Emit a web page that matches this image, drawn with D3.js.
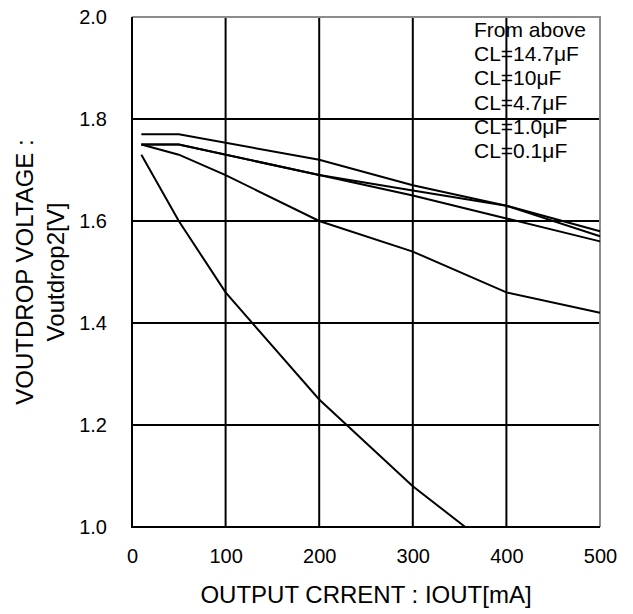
<!DOCTYPE html>
<html>
<head>
<meta charset="utf-8">
<script src="https://cdn.jsdelivr.net/npm/d3@7"></script>
<style>
  body { margin: 0; background: #fff; }
  text { font-family: "Liberation Sans", Arial, sans-serif; fill: #000; }
</style>
</head>
<body>
<svg id="chart" width="633" height="614"></svg>
<script>
// load current [mA] for each curve
const x_cl147 = [10, 50, 200, 300, 400, 500];
const x_cl10 = [10, 50, 200, 300, 400, 500];
const x_cl47 = [10, 50, 200, 300, 400, 500];
const x_cl10u = [10, 50, 100, 200, 300, 400, 500];
const x_cl01 = [10, 50, 100, 200, 300, 356];

// Voutdrop2 [V]
const y_cl147 = [1.77, 1.77, 1.72, 1.67, 1.63, 1.58];
const y_cl10 = [1.75, 1.75, 1.69, 1.66, 1.63, 1.57];
const y_cl47 = [1.75, 1.75, 1.69, 1.65, 1.605, 1.56];
const y_cl10u = [1.75, 1.73, 1.69, 1.60, 1.54, 1.46, 1.42];
const y_cl01 = [1.73, 1.60, 1.46, 1.25, 1.08, 1.00];

const legend_lines = ["From above", "CL=14.7μF", "CL=10μF", "CL=4.7μF", "CL=1.0μF", "CL=0.1μF"];
const x_ticks = [0, 100, 200, 300, 400, 500];
const y_ticks = [1.0, 1.2, 1.4, 1.6, 1.8, 2.0];

const curves = [
    [x_cl147, y_cl147],
    [x_cl10, y_cl10],
    [x_cl47, y_cl47],
    [x_cl10u, y_cl10u],
    [x_cl01, y_cl01]
].map(([xs, ys]) => xs.map((x, i) => ({x: x, y: ys[i]})));

const margin = {left: 132, right: 33, top: 17, bottom: 87};
const width = 633 - margin.left - margin.right;
const height = 614 - margin.top - margin.bottom;

const xScale = d3.scaleLinear().domain([0, 500]).range([0, width]);
const yScale = d3.scaleLinear().domain([1.0, 2.0]).range([height, 0]);

const svg = d3.select("#chart");
const g = svg.append("g")
    .attr("transform", `translate(${margin.left}, ${margin.top})`);

// grid
g.selectAll(".vgrid")
    .data(x_ticks.slice(1, -1))
    .enter().append("line")
    .attr("x1", d => xScale(d)).attr("x2", d => xScale(d))
    .attr("y1", 0).attr("y2", height)
    .attr("stroke", "#000").attr("stroke-width", 2);
g.selectAll(".hgrid")
    .data(y_ticks.slice(1, -1))
    .enter().append("line")
    .attr("x1", 0).attr("x2", width)
    .attr("y1", d => yScale(d)).attr("y2", d => yScale(d))
    .attr("stroke", "#000").attr("stroke-width", 2);

// frame: top and right grey, left and bottom black
g.append("path")
    .attr("d", `M0,0H${width}V${height}`)
    .attr("fill", "none").attr("stroke", "#8c8c8c").attr("stroke-width", 2);
g.append("path")
    .attr("d", `M0,0V${height}H${width}`)
    .attr("fill", "none").attr("stroke", "#000").attr("stroke-width", 2);

// curves
const line = d3.line().x(d => xScale(d.x)).y(d => yScale(d.y));
g.selectAll(".curve")
    .data(curves)
    .enter().append("path")
    .attr("d", line)
    .attr("fill", "none")
    .attr("stroke", "#000")
    .attr("stroke-width", 2);

// axes
const xAxis = d3.axisBottom(xScale).tickValues(x_ticks).tickSize(0).tickPadding(22);
const yAxis = d3.axisLeft(yScale).tickValues(y_ticks).tickSize(0).tickPadding(25)
    .tickFormat(d3.format(".1f"));

const xg = g.append("g").attr("transform", `translate(0, ${height})`).call(xAxis);
const yg = g.append("g").call(yAxis);
[xg, yg].forEach(a => {
    a.select(".domain").remove();
    a.selectAll("text").style("font-size", "20px")
        .style("font-family", '"Liberation Sans", Arial, sans-serif');
});

// axis titles
svg.append("text")
    .text("OUTPUT CRRENT : IOUT[mA]")
    .attr("x", margin.left + width / 2)
    .attr("y", 603)
    .attr("text-anchor", "middle")
    .attr("font-size", 24);

const ylab = svg.append("g")
    .attr("transform", `translate(0, ${margin.top + height / 2}) rotate(-90)`);
ylab.append("text")
    .text("VOUTDROP VOLTAGE :")
    .attr("x", 0).attr("y", 33)
    .attr("text-anchor", "middle")
    .attr("font-size", 24);
ylab.append("text")
    .text("Voutdrop2[V]")
    .attr("x", 0).attr("y", 64)
    .attr("text-anchor", "middle")
    .attr("font-size", 24);

// legend note
svg.selectAll(".legend")
    .data(legend_lines)
    .enter().append("text")
    .text(d => d)
    .attr("x", 474)
    .attr("y", (d, i) => 37 + i * 24.2)
    .attr("font-size", 21);
</script>
</body>
</html>
